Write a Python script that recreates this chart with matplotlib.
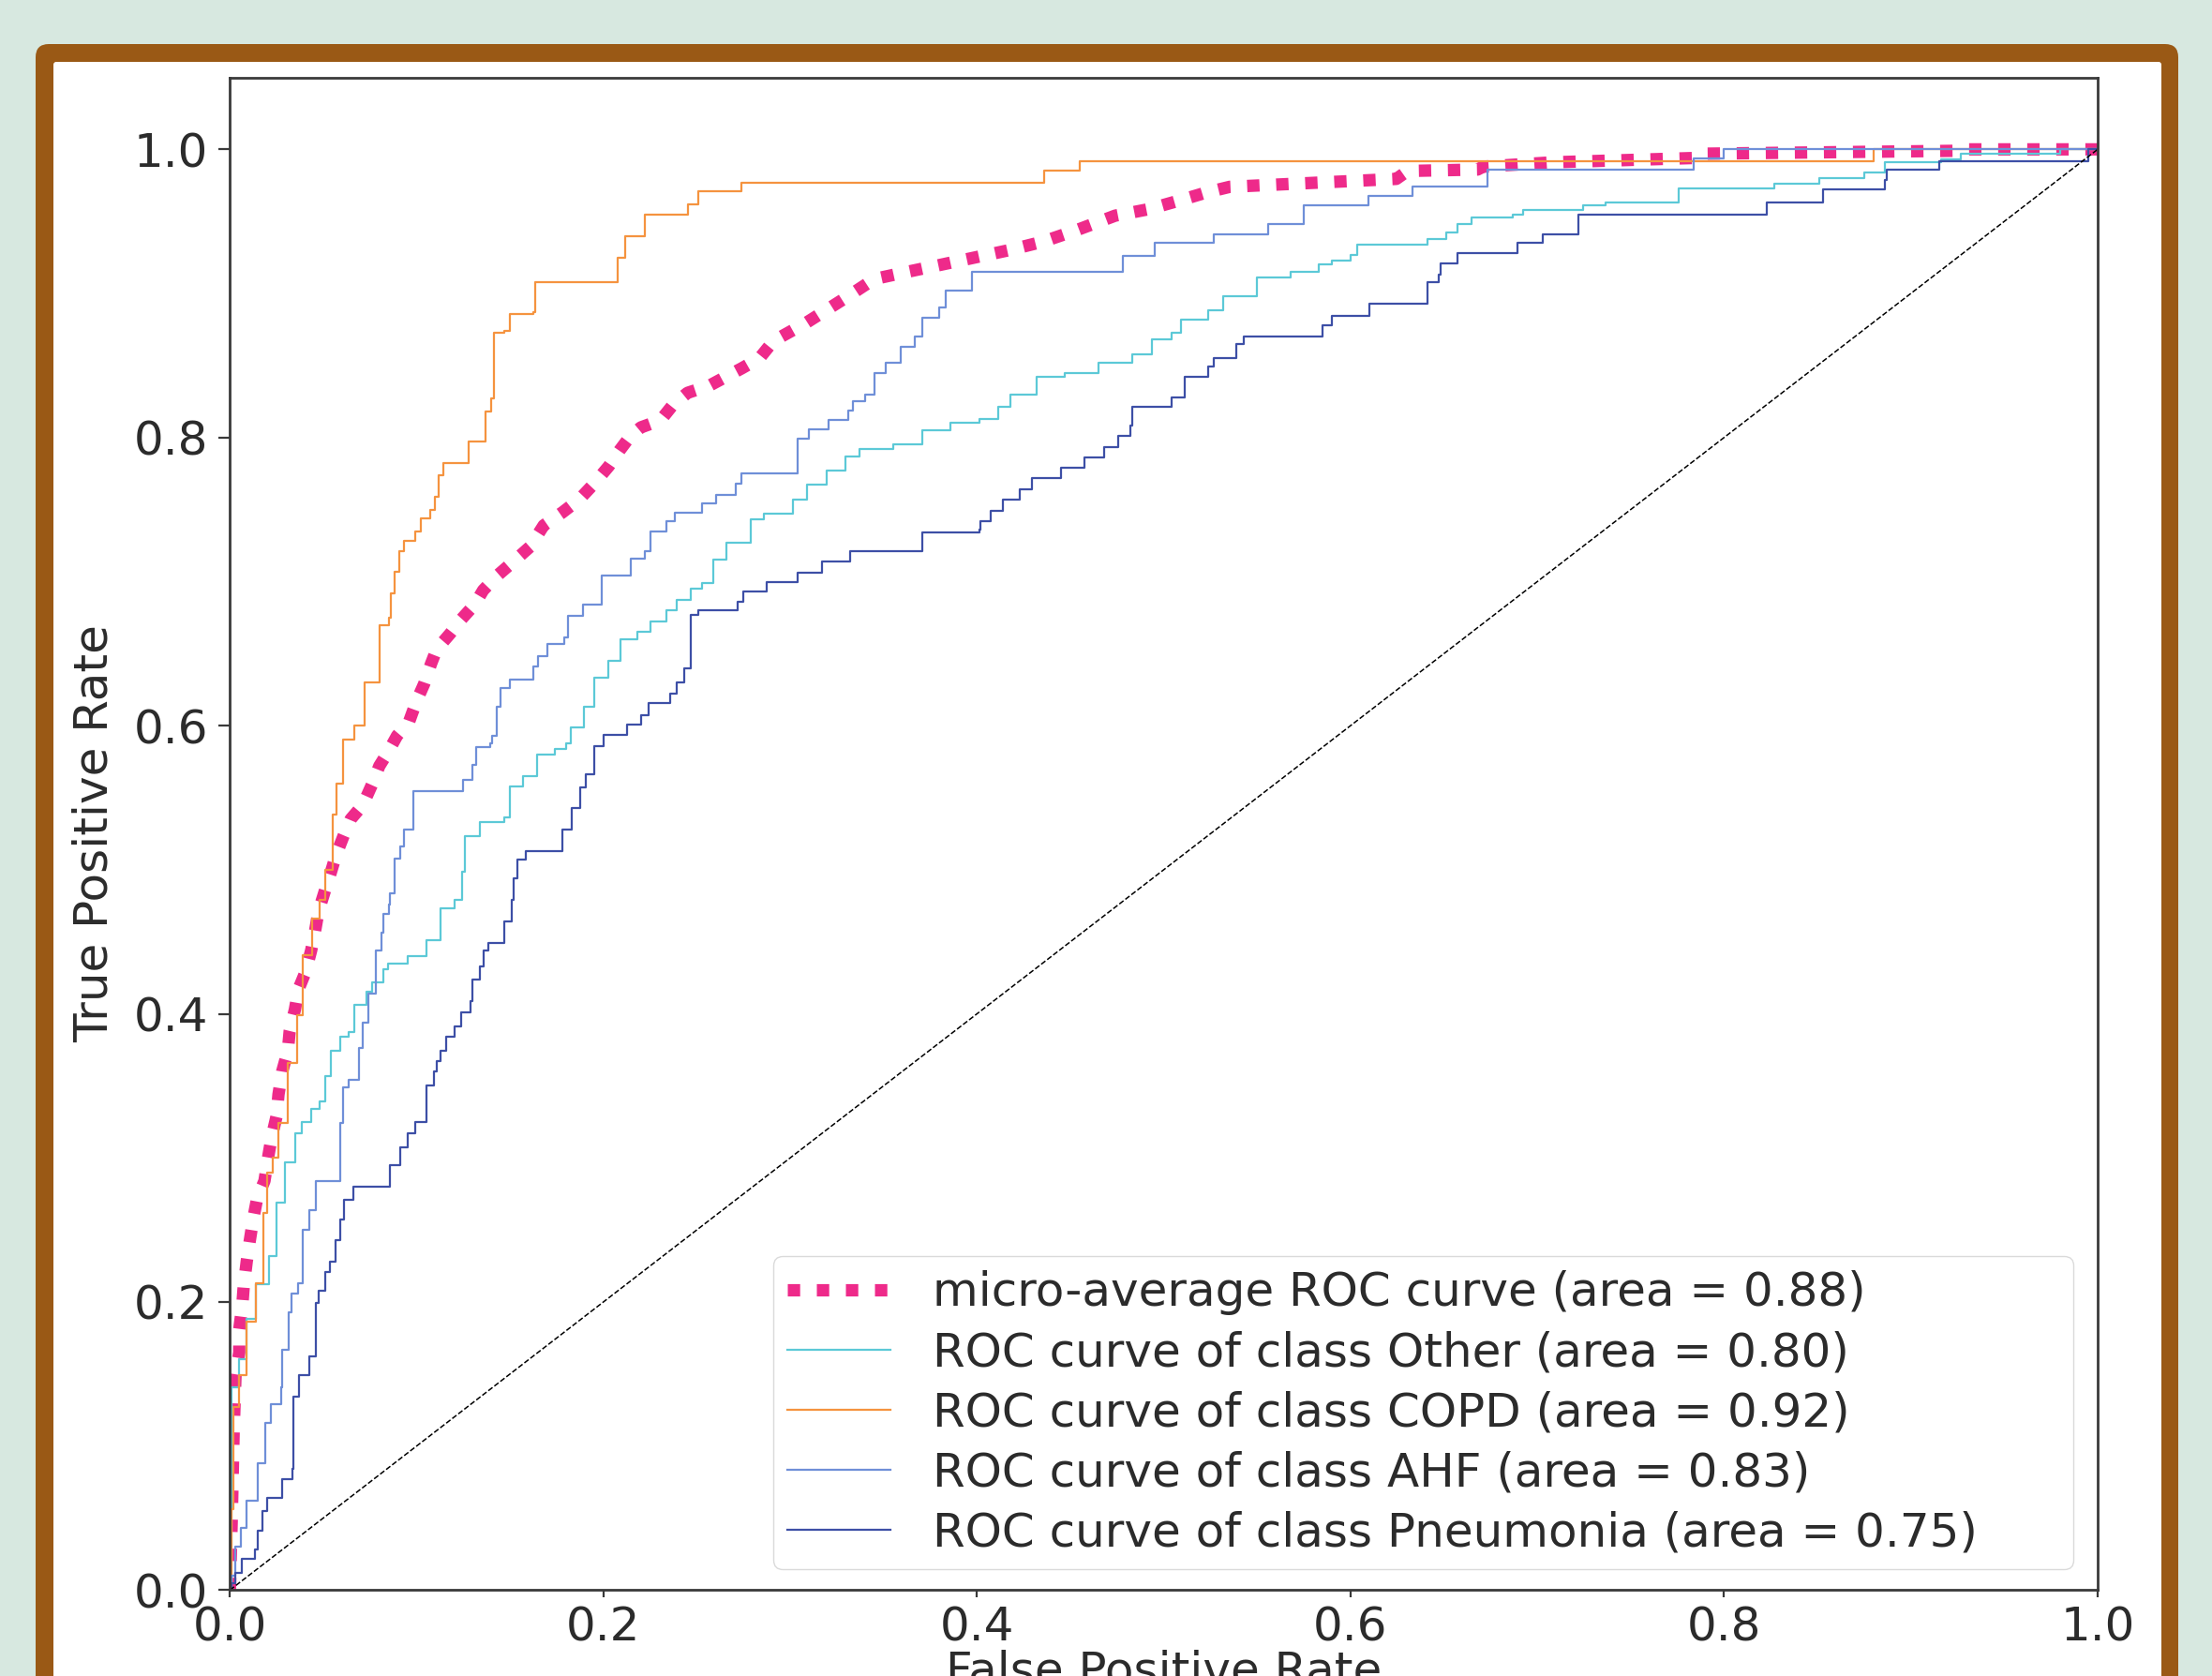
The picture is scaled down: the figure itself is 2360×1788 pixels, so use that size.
import matplotlib
matplotlib.use("Agg")
import matplotlib.pyplot as plt
from matplotlib.patches import FancyBboxPatch

# ---------------- data ----------------
class_names = ["Other", "COPD", "AHF", "Pneumonia"]
class_auc = [0.80, 0.92, 0.83, 0.75]
micro_auc = 0.88

micro_roc = [(0, 0), (0.001, 0.05), (0.002, 0.11), (0.003, 0.149), (0.005, 0.165), (0.005, 0.181),
             (0.0066, 0.197), (0.0074, 0.211), (0.009, 0.228), (0.0107, 0.243), (0.0124, 0.257),
             (0.0146, 0.272), (0.0185, 0.284), (0.0204, 0.30), (0.0223, 0.314), (0.025, 0.329),
             (0.026, 0.344), (0.028, 0.36), (0.031, 0.374), (0.032, 0.388), (0.0348, 0.403),
             (0.0367, 0.417), (0.0405, 0.429), (0.0435, 0.444), (0.0454, 0.456), (0.0474, 0.471),
             (0.051, 0.486), (0.054, 0.498), (0.0568, 0.51), (0.0607, 0.523), (0.0646, 0.535),
             (0.0712, 0.545), (0.0762, 0.5595), (0.08, 0.572), (0.0848, 0.582), (0.0895, 0.593),
             (0.096, 0.603), (0.0999, 0.617), (0.104, 0.629), (0.1077, 0.643), (0.1107, 0.653),
             (0.118, 0.664), (0.124, 0.674), (0.131, 0.684), (0.1356, 0.694), (0.143, 0.704),
             (0.151, 0.713), (0.1606, 0.724), (0.168, 0.739), (0.178, 0.748), (0.187, 0.757),
             (0.195, 0.768), (0.2028, 0.780), (0.2086, 0.791), (0.2144, 0.801), (0.22, 0.807),
             (0.2306, 0.812), (0.2374, 0.823), (0.245, 0.831), (0.2567, 0.836), (0.2653, 0.842),
             (0.274, 0.848), (0.2835, 0.855), (0.291, 0.867), (0.309, 0.88), (0.3297, 0.897),
             (0.345, 0.91), (0.3627, 0.915), (0.381, 0.92), (0.399, 0.925), (0.417, 0.93),
             (0.4355, 0.936), (0.4535, 0.944), (0.474, 0.954), (0.492, 0.9585), (0.5097, 0.965),
             (0.5226, 0.97), (0.5353, 0.974), (0.6245, 0.9795), (0.6305, 0.985), (0.668, 0.986),
             (0.671, 0.988), (0.708, 0.991), (0.7837, 0.994), (0.789, 0.997), (0.9235, 0.999),
             (0.93, 1.0), (1.0, 1.0)]

other_roc = [(0, 0), (0.001, 0.141), (0.005, 0.16), (0.009, 0.188), (0.014, 0.212), (0.021, 0.232),
             (0.025, 0.269), (0.0295, 0.297), (0.0348, 0.317), (0.0385, 0.325), (0.0435, 0.334),
             (0.048, 0.339), (0.0511, 0.357), (0.054, 0.374), (0.059, 0.384), (0.0637, 0.387),
             (0.0666, 0.406), (0.0733, 0.415), (0.0763, 0.4215), (0.082, 0.431), (0.0848, 0.435),
             (0.0953, 0.44), (0.105, 0.451), (0.1127, 0.473), (0.1203, 0.479), (0.1241, 0.4985),
             (0.126, 0.523), (0.1336, 0.533), (0.147, 0.536), (0.15, 0.558), (0.157, 0.565),
             (0.1645, 0.58), (0.174, 0.584), (0.1798, 0.588), (0.1825, 0.599), (0.1894, 0.613),
             (0.195, 0.633), (0.2028, 0.645), (0.209, 0.66), (0.218, 0.665), (0.225, 0.672),
             (0.2335, 0.68), (0.239, 0.687), (0.247, 0.695), (0.253, 0.699), (0.2586, 0.715),
             (0.266, 0.727), (0.2787, 0.743), (0.286, 0.747), (0.3015, 0.757), (0.309, 0.767),
             (0.3194, 0.777), (0.3297, 0.787), (0.337, 0.792), (0.355, 0.795), (0.3705, 0.805),
             (0.386, 0.81), (0.4013, 0.813), (0.4113, 0.821), (0.418, 0.83), (0.432, 0.842),
             (0.447, 0.845), (0.465, 0.852), (0.483, 0.858), (0.4935, 0.868), (0.504, 0.873),
             (0.509, 0.882), (0.524, 0.888), (0.532, 0.898), (0.55, 0.911), (0.568, 0.915),
             (0.583, 0.92), (0.59, 0.923), (0.6, 0.927), (0.6035, 0.934), (0.641, 0.938),
             (0.651, 0.942), (0.657, 0.948), (0.665, 0.953), (0.687, 0.955), (0.6925, 0.958),
             (0.7245, 0.961), (0.7365, 0.963), (0.7755, 0.973), (0.827, 0.976), (0.851, 0.980),
             (0.875, 0.984), (0.886, 0.991), (0.916, 0.993), (0.9265, 0.997), (0.98, 1.0), (1.0, 1.0)]

copd_roc = [(0, 0), (0.001, 0.056), (0.002, 0.127), (0.005, 0.149), (0.009, 0.186), (0.014, 0.213),
            (0.018, 0.262), (0.020, 0.29), (0.023, 0.30), (0.026, 0.324), (0.031, 0.366),
            (0.036, 0.399), (0.039, 0.441), (0.044, 0.466), (0.048, 0.479), (0.051, 0.50),
            (0.055, 0.538), (0.057, 0.56), (0.0605, 0.59), (0.0665, 0.60), (0.072, 0.63),
            (0.08, 0.67), (0.085, 0.675), (0.086, 0.692), (0.088, 0.707), (0.0905, 0.721),
            (0.093, 0.728), (0.099, 0.735), (0.102, 0.744), (0.107, 0.75), (0.11, 0.759),
            (0.1116, 0.774), (0.1145, 0.782), (0.128, 0.797), (0.1366, 0.818), (0.140, 0.827),
            (0.1414, 0.873), (0.147, 0.874), (0.150, 0.886), (0.1625, 0.887), (0.1635, 0.908),
            (0.2075, 0.925), (0.2114, 0.940), (0.222, 0.955), (0.245, 0.962), (0.251, 0.971),
            (0.274, 0.977), (0.436, 0.985), (0.455, 0.992), (0.88, 1.0), (1.0, 1.0)]

ahf_roc = [(0, 0), (0.001, 0.01), (0.003, 0.03), (0.0057, 0.043), (0.009, 0.062), (0.015, 0.088),
           (0.019, 0.116), (0.022, 0.129), (0.0275, 0.141), (0.028, 0.167), (0.0316, 0.193),
           (0.033, 0.206), (0.0366, 0.213), (0.039, 0.25), (0.0425, 0.264), (0.046, 0.284),
           (0.059, 0.324), (0.0607, 0.349), (0.0637, 0.354), (0.069, 0.376), (0.0711, 0.394),
           (0.074, 0.414), (0.078, 0.444), (0.081, 0.456), (0.082, 0.469), (0.085, 0.476),
           (0.0857, 0.4835), (0.088, 0.508), (0.091, 0.516), (0.093, 0.528), (0.098, 0.5545),
           (0.125, 0.5625), (0.13, 0.573), (0.132, 0.585), (0.1395, 0.588), (0.1403, 0.593),
           (0.143, 0.613), (0.145, 0.626), (0.15, 0.632), (0.1625, 0.641), (0.165, 0.648),
           (0.17, 0.657), (0.179, 0.661), (0.181, 0.676), (0.189, 0.684), (0.199, 0.704),
           (0.2144, 0.716), (0.222, 0.721), (0.225, 0.735), (0.2335, 0.742), (0.238, 0.748),
           (0.2527, 0.754), (0.2605, 0.760), (0.271, 0.768), (0.274, 0.775), (0.304, 0.799),
           (0.31, 0.806), (0.3205, 0.812), (0.331, 0.819), (0.3334, 0.825), (0.34, 0.830),
           (0.345, 0.845), (0.351, 0.852), (0.359, 0.863), (0.3667, 0.87), (0.3705, 0.883),
           (0.3795, 0.89), (0.383, 0.902), (0.3974, 0.915), (0.478, 0.926), (0.495, 0.935),
           (0.5267, 0.941), (0.556, 0.948), (0.575, 0.9615), (0.6095, 0.968), (0.633, 0.974),
           (0.6735, 0.986), (0.7837, 0.994), (0.8, 1.0), (1.0, 1.0)]

pneumonia_roc = [(0, 0), (0.001, 0.005), (0.003, 0.012), (0.0065, 0.0215), (0.0133, 0.028),
                 (0.015, 0.041), (0.0174, 0.055), (0.0199, 0.064), (0.028, 0.077), (0.0333, 0.084),
                 (0.034, 0.134), (0.037, 0.149), (0.0425, 0.162), (0.046, 0.199), (0.0475, 0.208),
                 (0.051, 0.221), (0.0534, 0.228), (0.0568, 0.243), (0.0593, 0.257), (0.061, 0.271),
                 (0.066, 0.28), (0.0857, 0.295), (0.0914, 0.307), (0.0953, 0.317), (0.0992, 0.325),
                 (0.105, 0.35), (0.109, 0.36), (0.1107, 0.367), (0.113, 0.374), (0.116, 0.384),
                 (0.1203, 0.3915), (0.124, 0.401), (0.129, 0.409), (0.13, 0.424), (0.1337, 0.433),
                 (0.1356, 0.444), (0.1384, 0.449), (0.147, 0.464), (0.1508, 0.479), (0.1518, 0.494),
                 (0.1538, 0.507), (0.1586, 0.513), (0.178, 0.528), (0.183, 0.543), (0.1875, 0.557),
                 (0.1904, 0.566), (0.195, 0.586), (0.1999, 0.5935), (0.2125, 0.601), (0.22, 0.607),
                 (0.224, 0.616), (0.2355, 0.622), (0.239, 0.630), (0.243, 0.640), (0.247, 0.677),
                 (0.251, 0.68), (0.272, 0.686), (0.275, 0.693), (0.2875, 0.6995), (0.304, 0.706),
                 (0.3168, 0.714), (0.332, 0.721), (0.3705, 0.734), (0.4013, 0.736), (0.402, 0.742),
                 (0.4075, 0.749), (0.414, 0.757), (0.423, 0.764), (0.4295, 0.772), (0.445, 0.779),
                 (0.4575, 0.786), (0.468, 0.793), (0.4755, 0.801), (0.482, 0.808), (0.483, 0.821),
                 (0.504, 0.828), (0.511, 0.842), (0.524, 0.849), (0.527, 0.855), (0.539, 0.865),
                 (0.543, 0.87), (0.585, 0.878), (0.590, 0.8845), (0.61, 0.893), (0.641, 0.908),
                 (0.647, 0.913), (0.648, 0.921), (0.657, 0.928), (0.6895, 0.935), (0.703, 0.941),
                 (0.722, 0.955), (0.8227, 0.963), (0.853, 0.972), (0.886, 0.979), (0.887, 0.986),
                 (0.915, 0.992), (0.995, 1.0), (1.0, 1.0)]

class_rocs = [other_roc, copd_roc, ahf_roc, pneumonia_roc]
class_colors = ["#5cc9d7", "#f5933f", "#6f8fd8", "#3d4fa6"]
micro_color = "#ee2a8a"

# ---------------- figure ----------------
W, H = 2360, 1788
FS = 36
fig = plt.figure(figsize=(W / 100, H / 100), dpi=100, facecolor="#d7e8e0")

outer = FancyBboxPatch((38, -60), 2324 - 38, (H - 47) + 60,
                       boxstyle="round,pad=0,rounding_size=14",
                       transform=None, facecolor="#9a5915", edgecolor="none", zorder=-3)
inner = FancyBboxPatch((57, -60), 2306 - 57, (H - 66) + 60,
                       boxstyle="round,pad=0,rounding_size=3",
                       transform=None, facecolor="white", edgecolor="none", zorder=-2)
fig.patches.extend([outer, inner])

ax = fig.add_axes([245.3 / W, 1 - 1696.3 / H, (2238 - 245.3) / W, (1696.3 - 82.5) / H])
ax.set_facecolor("white")

mx = [p[0] for p in micro_roc]
my = [p[1] for p in micro_roc]
ax.plot(mx, my, color=micro_color, lw=9.5, linestyle=(0, (1, 1.35)),
        label=f"micro-average ROC curve (area = {micro_auc:.2f})")

for name, auc, roc, col in zip(class_names, class_auc, class_rocs, class_colors):
    xs = [p[0] for p in roc]
    ys = [p[1] for p in roc]
    ax.plot(xs, ys, drawstyle="steps-post", color=col, lw=1.6,
            label=f"ROC curve of class {name} (area = {auc:.2f})")

ax.plot([0, 1], [0, 1], "k--", lw=1.1)

ax.set_xlim(0, 1)
ax.set_ylim(0, 1.05)
ticks = [0.0, 0.2, 0.4, 0.6, 0.8, 1.0]
ax.set_xticks(ticks)
ax.set_yticks(ticks)

txt_col = "#2b2b2b"
for s in ax.spines.values():
    s.set_color("#3a3a3a")
    s.set_linewidth(2.0)
ax.tick_params(axis="y", length=8.5, width=1.6, pad=8, labelsize=FS,
               color="#3a3a3a", labelcolor=txt_col)
ax.tick_params(axis="x", length=6, width=1.6, pad=6, labelsize=FS,
               color="#3a3a3a", labelcolor=txt_col)

ax.set_xlabel("False Positive Rate", fontsize=FS, color=txt_col)
ax.set_ylabel("True Positive Rate", fontsize=FS, color=txt_col)
ax.yaxis.set_label_coords(-0.0605, 0.5)
ax.xaxis.set_label_coords(0.5, -0.0389)

leg = ax.legend(loc="lower left", bbox_to_anchor=(0.291, 0.0137, 0.696, 0.3),
                mode="expand", borderaxespad=0, fontsize=FS, handlelength=2.2,
                handletextpad=0.9, labelspacing=0.32, borderpad=0.3,
                frameon=True, fancybox=True, edgecolor="0.82", framealpha=0.8,
                labelcolor=txt_col)

fig.savefig("out.png", dpi=100, facecolor=fig.get_facecolor())
